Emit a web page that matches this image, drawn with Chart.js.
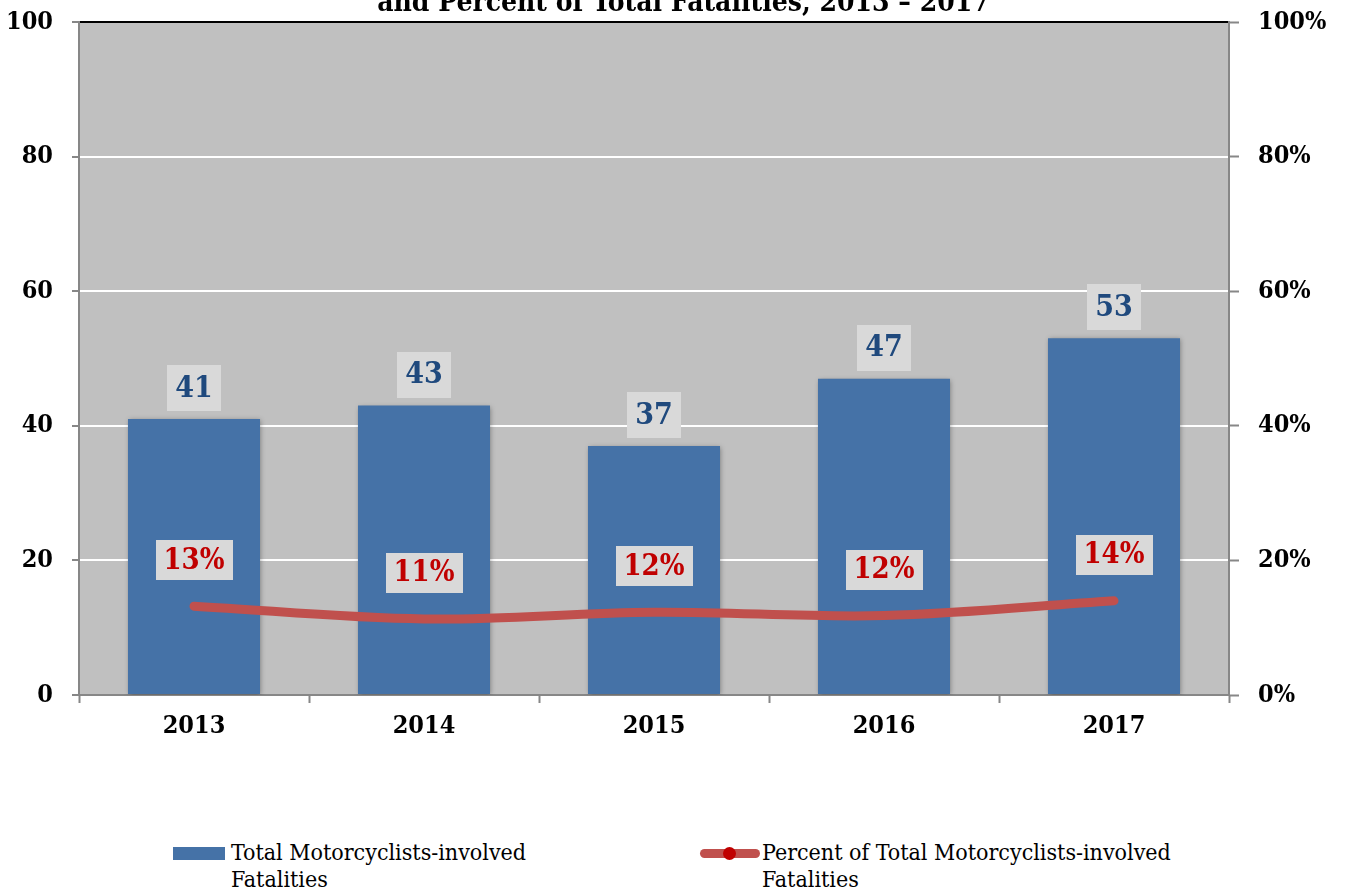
<!DOCTYPE html>
<html>
<head>
<meta charset="utf-8">
<script src="https://cdn.jsdelivr.net/npm/chart.js@4/dist/chart.umd.min.js"></script>
<style>
  html, body { margin: 0; padding: 0; background: #ffffff; }
  #wrap { position: relative; width: 1345px; height: 892px; overflow: hidden; background: #fff; }
  #c { position: absolute; left: 0; top: 0; }
  .leg { position: absolute; font-family: "DejaVu Serif Condensed", "DejaVu Serif", serif; font-size: 23px; line-height: 27px; color: #000; }
  .sw-bar { position: absolute; background: #4572A7; }
  .sw-line { position: absolute; background: #C0504D; border-radius: 5px; }
  .sw-dot { position: absolute; background: #C00000; border-radius: 50%; }
</style>
</head>
<body>
<div id="wrap">
  <canvas id="c" width="1345" height="755"></canvas>
  <div id="legend"></div>
</div>
<script>
// ---- data ----
const years = ['2013', '2014', '2015', '2016', '2017'];
const fatalities = [41, 43, 37, 47, 53];
const percentOfTotal = [13.2, 11.3, 12.3, 11.8, 14.0];
const seriesNames = ['Total Motorcyclists-involved Fatalities', 'Percent of Total Motorcyclists-involved Fatalities'];
const titleText = 'and Percent of Total Fatalities, 2013 \u2013 2017';

const SERIF = '"DejaVu Serif Condensed", "DejaVu Serif", serif';
const AXIS_GRAY = '#878787';

function drawBox(ctx, cx, cy, w, h, text, color, font) {
  ctx.save();
  ctx.fillStyle = '#D9D9D9';
  ctx.fillRect(Math.round(cx - w / 2), Math.round(cy - h / 2), w, h);
  ctx.fillStyle = color;
  ctx.font = font;
  ctx.textAlign = 'center';
  ctx.textBaseline = 'middle';
  ctx.fillText(text, cx, cy + 1);
  ctx.restore();
}

const plotBg = {
  id: 'plotBg',
  beforeDraw(chart) {
    const a = chart.chartArea, ctx = chart.ctx;
    ctx.save();
    ctx.fillStyle = '#C0C0C0';
    ctx.fillRect(a.left, a.top, a.right - a.left, a.bottom - a.top);
    ctx.restore();
  }
};

const clippedTitle = {
  id: 'clippedTitle',
  afterDraw(chart) {
    const ctx = chart.ctx;
    ctx.save();
    ctx.font = 'bold 28px ' + SERIF;
    ctx.fillStyle = '#000';
    ctx.textAlign = 'center';
    ctx.textBaseline = 'alphabetic';
    ctx.fillText(titleText, chart.width / 2 + 11, chart.chartArea.top - 11);
    ctx.restore();
  }
};

const barShadow = {
  id: 'barShadow',
  beforeDatasetDraw(chart, args) {
    if (args.index === 1) {
      const ctx = chart.ctx;
      ctx.save();
      ctx.shadowColor = 'rgba(0,0,0,0.35)';
      ctx.shadowBlur = 5;
      ctx.shadowOffsetX = 1;
      ctx.shadowOffsetY = 1;
    }
  },
  afterDatasetDraw(chart, args) {
    if (args.index === 1) chart.ctx.restore();
  }
};

const valueBoxes = {
  id: 'valueBoxes',
  afterDatasetsDraw(chart) {
    const ctx = chart.ctx;
    const barMeta = chart.getDatasetMeta(1);
    barMeta.data.forEach((bar, i) => {
      drawBox(ctx, bar.x, bar.y - 31, 54, 46, String(fatalities[i]), '#1F497D', 'bold 30px ' + SERIF);
    });
    const lineMeta = chart.getDatasetMeta(0);
    lineMeta.data.forEach((pt, i) => {
      drawBox(ctx, pt.x, pt.y - 46, 77, 40, Math.round(percentOfTotal[i]) + '%', '#C00000', 'bold 29px ' + SERIF);
    });
  }
};

const tickFont = { family: SERIF, size: 25, weight: 'bold' };

function fixVertical(width) {
  return function (scale) {
    scale.width = width;
    scale.paddingTop = 0;
    scale.paddingBottom = 0;
  };
}

const chart = new Chart(document.getElementById('c'), {
  data: {
    labels: years,
    datasets: [
      {
        type: 'line',
        label: seriesNames[1],
        data: percentOfTotal,
        yAxisID: 'y2',
        borderColor: '#C0504D',
        borderWidth: 9,
        borderCapStyle: 'round',
        borderJoinStyle: 'round',
        tension: 0.35,
        pointRadius: 0,
        pointHoverRadius: 0,
        order: 0
      },
      {
        type: 'bar',
        label: seriesNames[0],
        data: fatalities,
        yAxisID: 'y',
        backgroundColor: '#4572A7',
        borderWidth: 0,
        barPercentage: 0.574,
        categoryPercentage: 1.0,
        order: 1
      }
    ]
  },
  options: {
    responsive: false,
    animation: false,
    layout: { padding: { top: 22, left: 0, right: 0, bottom: 0 } },
    plugins: {
      legend: { display: false },
      title: { display: false },
      tooltip: { enabled: false }
    },
    scales: {
      x: {
        type: 'category',
        offset: true,
        afterFit(scale) { scale.height = 60; scale.paddingLeft = 0; scale.paddingRight = 0; },
        grid: {
          offset: true,
          drawOnChartArea: false,
          drawTicks: true,
          tickLength: 8,
          tickColor: AXIS_GRAY,
          tickWidth: 2
        },
        border: { display: true, color: AXIS_GRAY, width: 2 },
        ticks: { color: '#000', font: tickFont, padding: 8 }
      },
      y: {
        position: 'left',
        min: 0,
        max: 100,
        afterFit: fixVertical(79),
        ticks: { stepSize: 20, color: '#000', font: tickFont, padding: 19 },
        grid: {
          color: (c) => (c.tick && c.tick.value === 100) ? '#000000' : '#FFFFFF',
          lineWidth: 2,
          tickColor: AXIS_GRAY,
          tickLength: 7,
          tickWidth: 2
        },
        border: { display: true, color: AXIS_GRAY, width: 2 }
      },
      y2: {
        position: 'right',
        min: 0,
        max: 100,
        afterFit: fixVertical(116),
        ticks: { stepSize: 20, color: '#000', font: tickFont, padding: 19, callback: (v) => v + '%' },
        grid: {
          drawOnChartArea: false,
          tickColor: AXIS_GRAY,
          tickLength: 10,
          tickWidth: 2
        },
        border: { display: true, color: AXIS_GRAY, width: 2 }
      }
    }
  },
  plugins: [plotBg, barShadow, valueBoxes, clippedTitle]
});

// ---- HTML legend (wrapped text like the reference) ----
const legend = document.getElementById('legend');
legend.innerHTML =
  '<div class="sw-bar" style="left:173px;top:847px;width:52px;height:13px;"></div>' +
  '<div class="leg" style="left:231px;top:839px;width:320px;">' + seriesNames[0] + '</div>' +
  '<div class="sw-line" style="left:700px;top:849px;width:60px;height:9px;"></div>' +
  '<div class="sw-dot" style="left:723px;top:847px;width:13px;height:13px;"></div>' +
  '<div class="leg" style="left:762px;top:839px;width:440px;">' + seriesNames[1] + '</div>';
</script>
</body>
</html>
